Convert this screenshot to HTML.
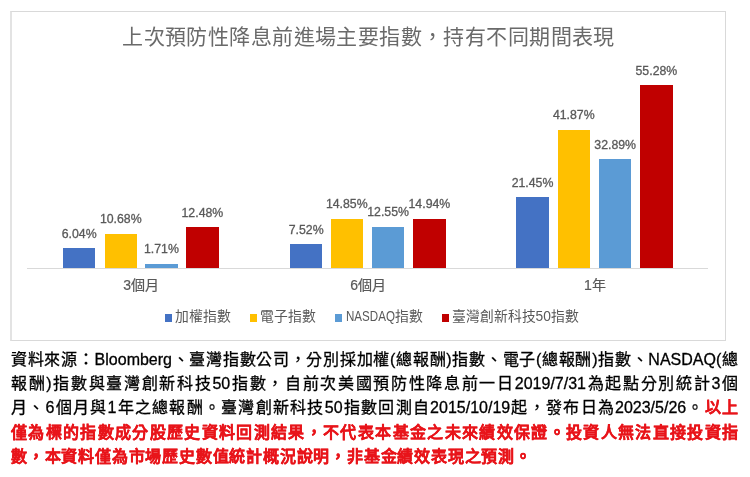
<!DOCTYPE html>
<html lang="zh-TW"><head><meta charset="utf-8">
<style>
html,body{margin:0;padding:0;background:#fff;}
body{width:750px;height:477px;position:relative;overflow:hidden;will-change:transform;font-family:"Liberation Sans",sans-serif;}
.a{position:absolute;}
.box{left:10px;top:11px;width:713px;height:328px;border:1px solid #d9d9d9;border-left:2px solid #e3e3e3;}
.title{left:11px;top:21px;width:715px;text-align:center;font-size:21px;line-height:32px;color:#6a6a6a;font-weight:300;letter-spacing:0.42px;}
.bar{position:absolute;}
.lbl{position:absolute;width:80px;text-align:center;font-size:12.3px;line-height:14px;color:#595959;-webkit-text-stroke:0.3px #595959;}
.cat{position:absolute;width:120px;text-align:center;font-size:14px;line-height:16px;color:#595959;-webkit-text-stroke:0.2px #595959;}
.nq{display:inline-block;transform:scaleX(0.84);transform-origin:0 0;margin-right:-9px;}
.leg{position:absolute;font-size:13.8px;line-height:16px;color:#595959;white-space:nowrap;}
.sq{position:absolute;width:7px;height:7.4px;}
.p{position:absolute;left:11px;width:727px;font-size:16px;line-height:24px;color:#000;-webkit-text-stroke:0.3px #000;text-align:justify;text-align-last:justify;white-space:nowrap;}
.r{color:#e8141a;font-weight:bold;-webkit-text-stroke:0.25px #e8141a;}
</style></head><body>
<div class="a box"></div>
<div class="a title">上次預防性降息前進場主要指數，持有不同期間表現</div>

<div class="bar" style="left:63px;top:248px;width:32.4px;height:20px;background:#4472c4"></div>
<div class="lbl" style="left:39.2px;top:226.6px">6.04%</div>
<div class="bar" style="left:104.6px;top:233.8px;width:32.4px;height:34.19999999999999px;background:#ffc000"></div>
<div class="lbl" style="left:80.8px;top:212.4px">10.68%</div>
<div class="bar" style="left:145.2px;top:263.8px;width:32.4px;height:4.199999999999989px;background:#5b9bd5"></div>
<div class="lbl" style="left:121.4px;top:242.4px">1.71%</div>
<div class="bar" style="left:186.2px;top:227px;width:32.4px;height:41px;background:#c00000"></div>
<div class="lbl" style="left:162.4px;top:205.6px">12.48%</div>
<div class="bar" style="left:290px;top:244px;width:32.4px;height:24px;background:#4472c4"></div>
<div class="lbl" style="left:266.2px;top:222.6px">7.52%</div>
<div class="bar" style="left:330.6px;top:218.8px;width:32.4px;height:49.19999999999999px;background:#ffc000"></div>
<div class="lbl" style="left:306.8px;top:197.4px">14.85%</div>
<div class="bar" style="left:371.9px;top:226.6px;width:32.4px;height:41.400000000000006px;background:#5b9bd5"></div>
<div class="lbl" style="left:348.1px;top:205.2px">12.55%</div>
<div class="bar" style="left:413.2px;top:218.8px;width:32.4px;height:49.19999999999999px;background:#c00000"></div>
<div class="lbl" style="left:389.4px;top:197.4px">14.94%</div>
<div class="bar" style="left:516.3px;top:197.2px;width:32.4px;height:70.80000000000001px;background:#4472c4"></div>
<div class="lbl" style="left:492.5px;top:175.8px">21.45%</div>
<div class="bar" style="left:557.6px;top:129.5px;width:32.4px;height:138.5px;background:#ffc000"></div>
<div class="lbl" style="left:533.8px;top:108.1px">41.87%</div>
<div class="bar" style="left:599px;top:159.4px;width:32.4px;height:108.6px;background:#5b9bd5"></div>
<div class="lbl" style="left:575.2px;top:138.0px">32.89%</div>
<div class="bar" style="left:640.2px;top:85px;width:32.4px;height:183px;background:#c00000"></div>
<div class="lbl" style="left:616.4px;top:63.6px">55.28%</div>
<div class="a" style="left:27px;top:268px;width:681px;height:1px;background:#d9d9d9"></div>
<div class="cat" style="left:81.19999999999999px;top:277px">3個月</div>
<div class="cat" style="left:308.2px;top:277px">6個月</div>
<div class="cat" style="left:534.8px;top:277px">1年</div>
<div class="sq" style="left:165px;top:314.3px;background:#4472c4"></div>
<div class="leg" style="left:174.5px;top:308.5px">加權指數</div>
<div class="sq" style="left:249.6px;top:314.3px;background:#ffc000"></div>
<div class="leg" style="left:259.5px;top:308.5px">電子指數</div>
<div class="sq" style="left:335px;top:314.3px;background:#5b9bd5"></div>
<div class="leg" style="left:346px;top:308.5px"><span class="nq">NASDAQ</span>指數</div>
<div class="sq" style="left:441.8px;top:314.3px;background:#c00000"></div>
<div class="leg" style="left:451.5px;top:308.5px">臺灣創新科技50指數</div>
<div class="p" style="top:347.5px">資料來源：Bloomberg、臺灣指數公司，分別採加權(總報酬)指數、電子(總報酬)指數、NASDAQ(總</div>
<div class="p" style="top:371.7px">報酬)指數與臺灣創新科技50指數，自前次美國預防性降息前一日2019/7/31為起點分別統計3個</div>
<div class="p" style="top:395.9px">月、6個月與1年之總報酬。臺灣創新科技50指數回測自2015/10/19起，發布日為2023/5/26。<span class="r">以上</span></div>
<div class="p" style="top:420.6px"><span class="r">僅為標的指數成分股歷史資料回測結果，不代表本基金之未來績效保證。投資人無法直接投資指</span></div>
<div class="p" style="top:444.8px;text-align-last:left;letter-spacing:0.8px"><span class="r">數，本資料僅為市場歷史數值統計概況說明，非基金績效表現之預測。</span></div>
</body></html>
